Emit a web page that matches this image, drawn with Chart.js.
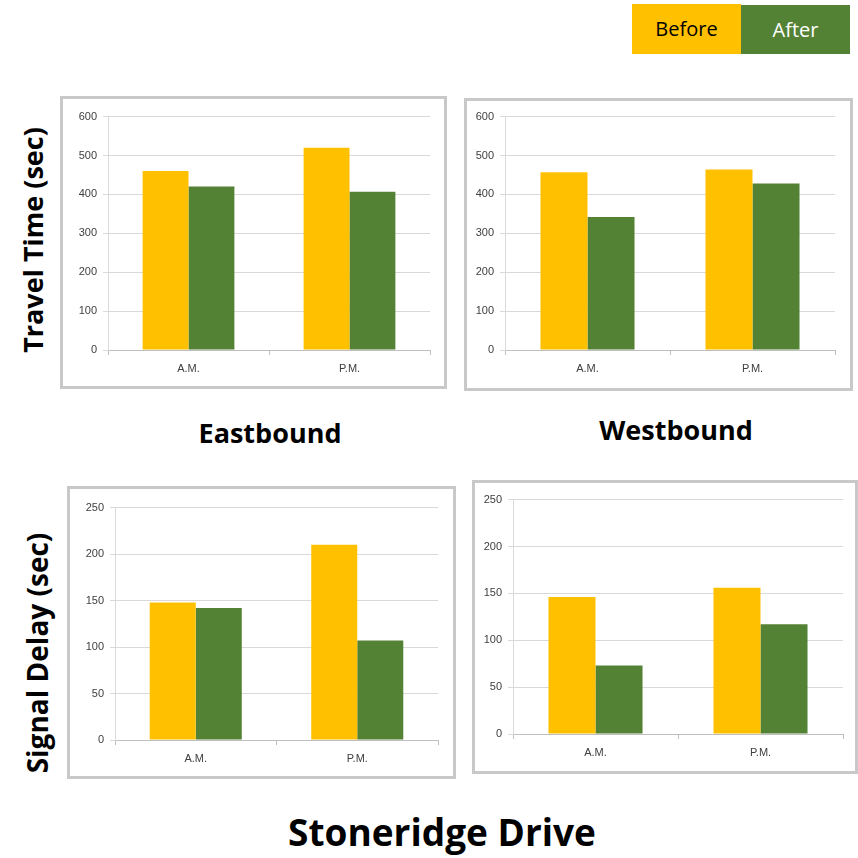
<!DOCTYPE html>
<html>
<head>
<meta charset="utf-8">
<title>Stoneridge Drive - Before / After</title>
<script src="https://cdn.jsdelivr.net/npm/chart.js@4.4.1/dist/chart.umd.min.js"></script>
<style>
    html, body {
        margin: 0;
        padding: 0;
        background: #ffffff;
    }
    #page {
        position: relative;
        width: 858px;
        height: 858px;
        overflow: hidden;
        font-family: "Open Sans", "Noto Sans", sans-serif;
    }
    .box {
        position: absolute;
        box-sizing: border-box;
        border: 3px solid #c8c8c8;
        background: #ffffff;
    }
    .chart-wrap {
        position: absolute;
    }
    .legend-item {
        position: absolute;
        font-size: 20px;
        line-height: 50px;
        text-align: center;
    }
    .title {
        position: absolute;
        font-weight: bold;
        color: #000000;
        white-space: nowrap;
        transform: translateX(-50%);
    }
    .ytitle {
        position: absolute;
        font-weight: bold;
        color: #000000;
        white-space: nowrap;
        transform: translate(-50%, -50%) rotate(-90deg);
    }
</style>
</head>
<body>
<div id="page">
    <div class="legend-item" style="left:632px; top:4px; width:109px; height:50px; background:#FFC000; color:#000;">Before</div>
    <div class="legend-item" style="left:741px; top:5px; width:109px; height:49px; background:#548235; color:#fff;">After</div>

    <div class="box" style="left:60px; top:96px; width:387px; height:293px;"></div>
    <div class="box" style="left:464px; top:98px; width:389px; height:293px;"></div>
    <div class="box" style="left:67px; top:486px; width:389px; height:293px;"></div>
    <div class="box" style="left:472px; top:480px; width:386px; height:294px;"></div>

    <div class="chart-wrap" id="wrapEbTravel"><canvas id="ebTravel"></canvas></div>
    <div class="chart-wrap" id="wrapWbTravel"><canvas id="wbTravel"></canvas></div>
    <div class="chart-wrap" id="wrapEbDelay"><canvas id="ebDelay"></canvas></div>
    <div class="chart-wrap" id="wrapWbDelay"><canvas id="wbDelay"></canvas></div>

    <div class="title" style="left:270px; top:414px; font-size:27px;">Eastbound</div>
    <div class="title" style="left:676px; top:411px; font-size:27px;">Westbound</div>
    <div class="title" style="left:442px; top:806px; font-size:37px;">Stoneridge Drive</div>

    <div class="ytitle" style="left:32px; top:240px; font-size:27px;">Travel Time (sec)</div>
    <div class="ytitle" style="left:37px; top:653px; font-size:28px;">Signal Delay (sec)</div>
</div>

<script>
// Chart data
const periods = ['A.M.', 'P.M.'];

const ebTravelBefore = [460, 520];
const ebTravelAfter = [420, 407];
const wbTravelBefore = [457, 464];
const wbTravelAfter = [342, 428];

const ebDelayBefore = [148, 210];
const ebDelayAfter = [142, 107];
const wbDelayBefore = [146, 156];
const wbDelayAfter = [73, 117];

const travelTicks = { max: 600, step: 100 };
const delayTicks = { max: 250, step: 50 };

// Colors
const BEFORE_COLOR = '#FFC000';
const AFTER_COLOR = '#548235';
const TICK_COLOR = '#404040';
const TICK_FONT = { family: 'Liberation Sans Narrow, Liberation Sans, Arial, sans-serif', size: 11 };

// Plot areas on the page: left, top, right, bottom
const panels = [
    { id: 'ebTravel', area: [108, 116, 430, 350], before: ebTravelBefore, after: ebTravelAfter, ticks: travelTicks },
    { id: 'wbTravel', area: [505, 116, 835, 350], before: wbTravelBefore, after: wbTravelAfter, ticks: travelTicks },
    { id: 'ebDelay', area: [115, 507, 438, 740], before: ebDelayBefore, after: ebDelayAfter, ticks: delayTicks },
    { id: 'wbDelay', area: [513, 499, 843, 734], before: wbDelayBefore, after: wbDelayAfter, ticks: delayTicks }
];

const Y_AXIS_WIDTH = 45;
const X_AXIS_HEIGHT = 30;
const PAD_TOP = 12;
const PAD_RIGHT = 8;

function buildPanel(panel) {
    const [left, top, right, bottom] = panel.area;
    const width = right - left + Y_AXIS_WIDTH + PAD_RIGHT;
    const height = bottom - top + PAD_TOP + X_AXIS_HEIGHT;

    // Place the canvas so the plot area lands where it should
    const wrap = document.getElementById('wrap' + panel.id.charAt(0).toUpperCase() + panel.id.slice(1));
    wrap.style.left = (left - Y_AXIS_WIDTH) + 'px';
    wrap.style.top = (top - PAD_TOP) + 'px';
    wrap.style.width = width + 'px';
    wrap.style.height = height + 'px';

    const canvas = document.getElementById(panel.id);
    canvas.width = width;
    canvas.height = height;

    new Chart(canvas, {
        type: 'bar',
        data: {
            labels: periods,
            datasets: [
                {
                    label: 'Before',
                    data: panel.before,
                    backgroundColor: BEFORE_COLOR,
                    borderWidth: 0,
                    categoryPercentage: 0.57,
                    barPercentage: 1.0
                },
                {
                    label: 'After',
                    data: panel.after,
                    backgroundColor: AFTER_COLOR,
                    borderWidth: 0,
                    categoryPercentage: 0.57,
                    barPercentage: 1.0
                }
            ]
        },
        options: {
            responsive: false,
            animation: false,
            devicePixelRatio: 1,
            layout: {
                padding: { left: 0, top: PAD_TOP, right: PAD_RIGHT, bottom: 0 }
            },
            plugins: {
                legend: { display: false },
                tooltip: { enabled: false }
            },
            scales: {
                x: {
                    grid: {
                        display: true,
                        drawOnChartArea: false,
                        tickLength: 5,
                        color: '#bfbfbf'
                    },
                    border: { display: true, color: '#bfbfbf' },
                    ticks: {
                        color: TICK_COLOR,
                        padding: 7,
                        font: TICK_FONT
                    },
                    afterFit: scale => { scale.height = X_AXIS_HEIGHT; }
                },
                y: {
                    min: 0,
                    max: panel.ticks.max,
                    grid: {
                        color: '#d9d9d9',
                        tickLength: 5
                    },
                    border: { display: true, color: '#d9d9d9' },
                    ticks: {
                        stepSize: panel.ticks.step,
                        color: TICK_COLOR,
                        padding: 6,
                        font: TICK_FONT
                    },
                    afterFit: scale => { scale.width = Y_AXIS_WIDTH; }
                }
            }
        }
    });
}

panels.forEach(buildPanel);
</script>
</body>
</html>
